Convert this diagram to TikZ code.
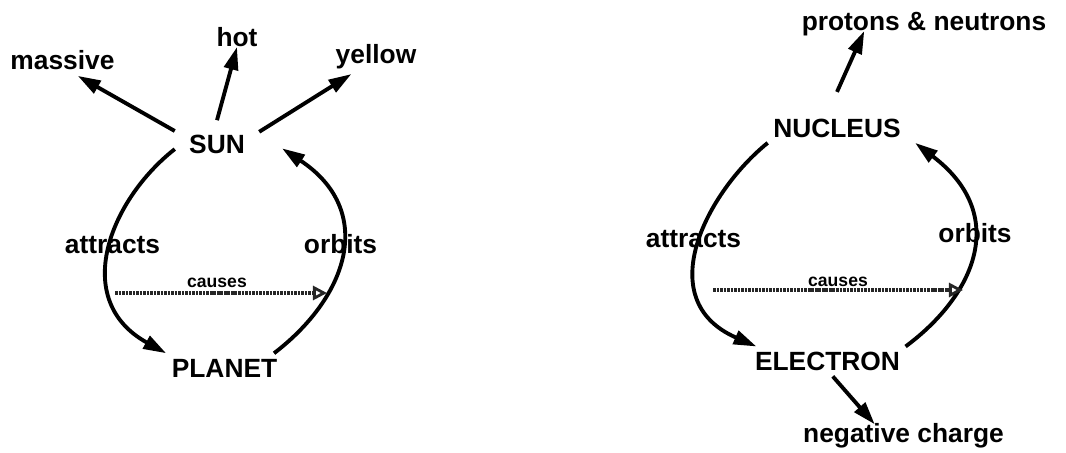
\documentclass[tikz,border=0pt]{standalone}
\usepackage{fontspec}
\setmainfont{Liberation Sans}
\usetikzlibrary{arrows.meta}

\tikzset{
  concept/.style={font=\bfseries\fontsize{15}{18}\selectfont, inner sep=3pt, anchor=base},
  attr/.style={font=\bfseries\fontsize{15}{18}\selectfont, inner sep=3pt, anchor=base},
  rel/.style={font=\bfseries\fontsize{15}{18}\selectfont, inner sep=0pt, anchor=base},
  relsmall/.style={font=\bfseries\fontsize{10}{12}\selectfont, inner sep=0pt, anchor=base},
  link/.style={line width=2.2pt, -{Triangle[length=13pt,width=8pt]}},
  causal/.style={line width=2pt, black!85, dash pattern=on 1.5pt off 0.5pt,
    -{Triangle[open,length=8pt,width=8pt,line width=1.6pt]}}
}

\begin{document}
\begin{tikzpicture}[x=0.02cm,y=-0.02cm]
\useasboundingbox (0,0) rectangle (1066,453);

% solar system
\node[concept,inner sep=8pt] (sun) at (217,153) {SUN};
\node[concept] (planet) at (224.5,377) {PLANET};
\node[attr] (massive) at (62.5,70) {massive};
\node[attr] (hot) at (237,47) {hot};
\node[attr] (yellow) at (376,63) {yellow};
\node[rel] (attrL) at (112.5,253) {attracts};
\node[rel] (orbL) at (340.5,253) {orbits};
\node[relsmall] (causeL) at (217,287) {causes};
\coordinate (cL1) at (115,293);
\coordinate (cL2) at (327,293);

\draw[link] (sun.163) -- (massive.-45);
\draw[link] (sun.north) -- (hot.base);
\draw[link] (sun.16) -- (yellow.-144);
\draw[link] (sun.187) .. controls (110,200) and (70,300) .. (planet.north west);
\draw[link] ([xshift=-5pt]planet.north east) .. controls (350,295) and (375,210) .. ([xshift=13pt]sun.-6);
\draw[causal] (cL1) -- (cL2);

% atom
\node[concept] (nuc) at (837,137) {NUCLEUS};
\node[concept] (elec) at (827.5,370.5) {ELECTRON};
\node[attr] (prot) at (924,31) {protons \& neutrons};
\node[attr] (neg) at (903.5,442) {negative charge};
\node[rel] (attrR) at (693.5,247) {attracts};
\node[rel] (orbR) at (975,242) {orbits};
\node[relsmall] (causeR) at (838,286) {causes};
\coordinate (cR1) at (713,290);
\coordinate (cR2) at (963,290);

\draw[link] ([yshift=12pt]nuc.north) -- ([xshift=-34pt]prot.base);
\draw[link] ([xshift=3pt]elec.south) -- ([yshift=-4pt]neg.148);
\draw[link] (nuc.south west) .. controls (707,192) and (650,300) .. ([xshift=4pt]elec.north west);
\draw[link] (elec.north east) .. controls (975,295) and (1010,215) .. ([xshift=5pt]nuc.south east);
\draw[causal] (cR1) -- (cR2);
\end{tikzpicture}
\end{document}
